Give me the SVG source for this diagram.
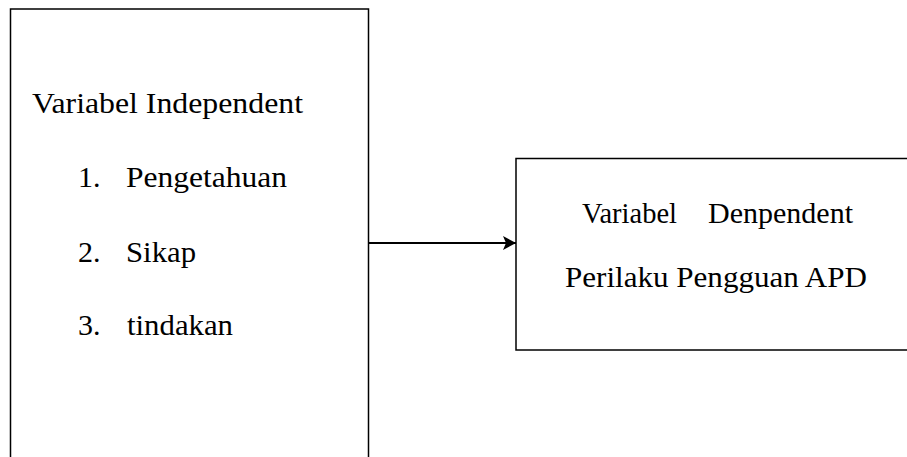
<svg xmlns="http://www.w3.org/2000/svg" width="907" height="457" viewBox="0 0 907 457">
<defs>
<style>
.box{fill:#fff;stroke:#000;stroke-width:1.5}
.t{font-family:"Liberation Serif","Times New Roman",serif;font-size:30px;fill:#000}
.conn{stroke:#000;stroke-width:2;fill:none}
</style>
<marker id="ah" markerWidth="14" markerHeight="16" refX="13" refY="8" orient="auto" markerUnits="userSpaceOnUse">
<path d="M0,1 L13,8 L0,15 L3,8 Z" fill="#000"/>
</marker>
</defs>
<rect width="907" height="457" fill="#fff"/>
<g id="node-independent">
<rect class="box" x="10.5" y="9" width="358" height="460"/>
<text class="t" x="32" y="113" textLength="271" lengthAdjust="spacingAndGlyphs">Variabel Independent</text>
<text class="t" x="78" y="187">1.</text>
<text class="t" x="126" y="187" textLength="161" lengthAdjust="spacingAndGlyphs">Pengetahuan</text>
<text class="t" x="78" y="262">2.</text>
<text class="t" x="126" y="262" textLength="70" lengthAdjust="spacingAndGlyphs">Sikap</text>
<text class="t" x="78" y="335">3.</text>
<text class="t" x="127" y="335" textLength="106" lengthAdjust="spacingAndGlyphs">tindakan</text>
</g>
<g id="node-dependent">
<rect class="box" x="516" y="158.5" width="400" height="191.5"/>
<text class="t" x="582" y="223" textLength="95" lengthAdjust="spacingAndGlyphs">Variabel</text>
<text class="t" x="708" y="223" textLength="145" lengthAdjust="spacingAndGlyphs">Denpendent</text>
<text class="t" x="565" y="287" textLength="302" lengthAdjust="spacingAndGlyphs">Perilaku Pengguan APD</text>
</g>
<g id="connectors">
<line class="conn" x1="369" y1="243" x2="516" y2="243" marker-end="url(#ah)"/>
</g>
</svg>
